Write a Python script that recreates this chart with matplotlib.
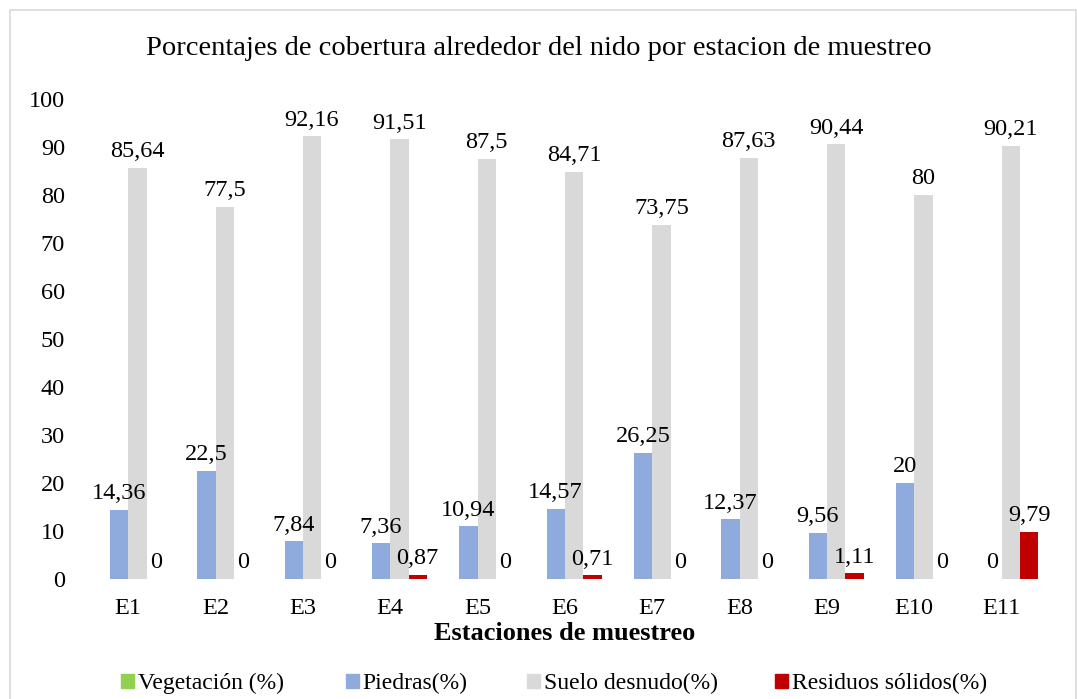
import matplotlib
matplotlib.use("Agg")
import matplotlib.pyplot as plt
import numpy as np
from matplotlib.patches import Rectangle

stations = ["E1", "E2", "E3", "E4", "E5", "E6", "E7", "E8", "E9", "E10", "E11"]
vegetacion = [0, 0, 0, 0, 0, 0, 0, 0, 0, 0, 0]
piedras = [14.36, 22.5, 7.84, 7.36, 10.94, 14.57, 26.25, 12.37, 9.56, 20, 0]
suelo = [85.64, 77.5, 92.16, 91.51, 87.5, 84.71, 73.75, 87.63, 90.44, 80, 90.21]
residuos = [0, 0, 0, 0.87, 0, 0.71, 0, 0, 1.11, 0, 9.79]

title = "Porcentajes de cobertura alrededor del nido por estacion de muestreo"
xlabel = "Estaciones de muestreo"
names = ["Vegetación (%)", "Piedras(%)", "Suelo desnudo(%)", "Residuos sólidos(%)"]
colors = ["#92d050", "#8faadc", "#d9d9d9", "#c00000"]

plt.rcParams['font.family'] = ['Liberation Serif', 'DejaVu Serif']

fig = plt.figure(figsize=(10.77, 6.99), dpi=100)
ax = fig.add_axes([0.0785, 0.172, 0.892, 0.687])

x = np.arange(len(stations))
w = 0.21
fmt = lambda v: f"{v:g}".replace('.', ',')

series = [(vegetacion, colors[0], -1.5 * w, False),
          (piedras, colors[1], -0.5 * w, True),
          (suelo, colors[2], 0.5 * w, True),
          (residuos, colors[3], 1.5 * w, True)]
for vals, c, off, lab in series:
    ax.bar(x + off, vals, width=w, color=c, edgecolor='none')
    if lab:
        for xi, v in zip(x + off, vals):
            ax.annotate(fmt(v), (xi, v), xytext=(0, 4), textcoords='offset points',
                        ha='center', va='bottom', fontsize=17.5)

ax.set_xlim(-0.5, len(stations) - 0.5)
ax.set_ylim(0, 100)
ax.set_yticks(range(0, 101, 10))
ax.set_xticks(x)
ax.set_xticklabels(stations)
ax.tick_params(axis='both', length=0, labelsize=17.5)
ax.tick_params(axis='y', pad=14)
ax.tick_params(axis='x', pad=14)
for s in ['top', 'right', 'left', 'bottom']:
    ax.spines[s].set_visible(False)
ax.set_xlabel(xlabel, fontsize=19, fontweight='bold', labelpad=2)

fig.text(0.5, 0.93, title, ha='center', va='center', fontsize=20.5)

legend_x = [0.1124, 0.3213, 0.4893, 0.7196]
for h, n, lx in zip(colors, names, legend_x):
    fig.legend([Rectangle((0, 0), 1, 1, color=h)], [n], loc='center left',
               bbox_to_anchor=(lx, 0.022), frameon=False, fontsize=17,
               handlelength=0.55, handleheight=0.55, handletextpad=0.15,
               borderpad=0, borderaxespad=0)

fig.add_artist(Rectangle((0.009, -0.01), 0.99, 0.995, transform=fig.transFigure,
                         fill=False, edgecolor='#d9d9d9', linewidth=1.2))

fig.savefig("out.png", dpi=100)
